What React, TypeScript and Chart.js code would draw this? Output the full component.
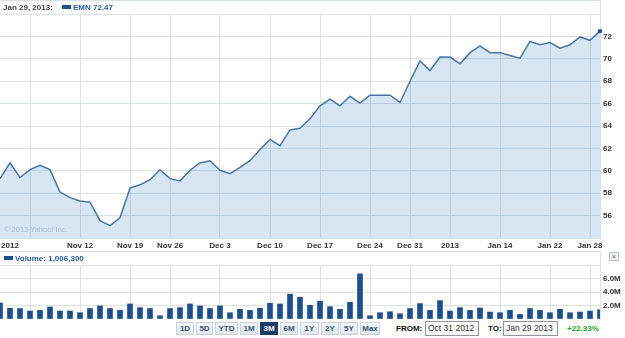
import React, { useEffect, useRef } from 'react';
import { Chart, registerables } from 'chart.js';

Chart.register(...registerables);

// ---- data ----
const dates = [
  'Oct 31', 'Nov 1', 'Nov 2', 'Nov 5', 'Nov 6', 'Nov 7', 'Nov 8', 'Nov 9',
  'Nov 12', 'Nov 13', 'Nov 14', 'Nov 15', 'Nov 16', 'Nov 19', 'Nov 20', 'Nov 21',
  'Nov 23', 'Nov 26', 'Nov 27', 'Nov 28', 'Nov 29', 'Nov 30', 'Dec 3', 'Dec 4',
  'Dec 5', 'Dec 6', 'Dec 7', 'Dec 10', 'Dec 11', 'Dec 12', 'Dec 13', 'Dec 14',
  'Dec 17', 'Dec 18', 'Dec 19', 'Dec 20', 'Dec 21', 'Dec 24', 'Dec 26', 'Dec 27',
  'Dec 28', 'Dec 31', 'Jan 2', 'Jan 3', 'Jan 4', 'Jan 7', 'Jan 8', 'Jan 9',
  'Jan 10', 'Jan 11', 'Jan 14', 'Jan 15', 'Jan 16', 'Jan 17', 'Jan 18', 'Jan 22',
  'Jan 23', 'Jan 24', 'Jan 25', 'Jan 28', 'Jan 29',
];

const closes = [
  59.3, 60.7, 59.4, 60.1, 60.5, 60.1, 58.1, 57.6,
  57.3, 57.2, 55.55, 55.1, 55.8, 58.45, 58.75, 59.2,
  60.1, 59.3, 59.1, 60.05, 60.7, 60.9, 60.05, 59.75,
  60.3, 60.9, 61.9, 62.8, 62.25, 63.65, 63.8, 64.65,
  65.8, 66.4, 65.8, 66.65, 66.05, 66.75, 66.75, 66.75,
  66.1, 68.0, 69.8, 68.95, 70.15, 70.15, 69.55, 70.55,
  71.15, 70.55, 70.55, 70.3, 70.05, 71.55, 71.25, 71.45,
  70.95, 71.25, 71.95, 71.65, 72.47,
];

// volume in millions of shares
const volumes = [
  2.38, 1.58, 1.55, 1.18, 1.28, 1.78, 1.18, 1.18,
  0.93, 1.55, 1.93, 1.55, 1.28, 2.23, 1.68, 1.55,
  0.48, 1.55, 1.68, 2.23, 1.93, 1.55, 1.93, 0.93,
  1.43, 1.28, 1.58, 2.33, 2.23, 3.68, 3.23, 2.03,
  2.63, 1.83, 1.43, 2.48, 6.69, 0.48, 0.93, 1.08,
  0.78, 1.55, 2.28, 1.28, 2.73, 1.18, 1.68, 1.28,
  1.63, 1.03, 0.93, 1.28, 0.68, 1.55, 1.28, 0.93,
  1.43, 0.93, 1.03, 1.18, 1.38,
];

const tickDates = ['Nov 1', 'Nov 5', 'Nov 12', 'Nov 19', 'Nov 26', 'Dec 3', 'Dec 10', 'Dec 17', 'Dec 24', 'Dec 31', 'Jan 7', 'Jan 14', 'Jan 22', 'Jan 28'];
const tickTexts = ['2012', '', 'Nov 12', 'Nov 19', 'Nov 26', 'Dec 3', 'Dec 10', 'Dec 17', 'Dec 24', 'Dec 31', '2013', 'Jan 14', 'Jan 22', 'Jan 28'];
const gridDates = ['Nov 5', 'Nov 12', 'Nov 19', 'Nov 26', 'Dec 3', 'Dec 10', 'Dec 17', 'Dec 24', 'Dec 31', 'Jan 7', 'Jan 14', 'Jan 22', 'Jan 28'];

const priceTicks = [56, 58, 60, 62, 64, 66, 68, 70, 72];
const volumeTicks = [2, 4, 6];

const rangeButtons = ['1D', '5D', 'YTD', '1M', '3M', '6M', '1Y', '2Y', '5Y', 'Max'];
const selectedRange = '3M';

// ---- styles ----
const FONT = '"Liberation Sans", Arial, Helvetica, sans-serif';
const GRID = '#dae2ea';
const LINE = '#4b74a2';
const FILL = 'rgba(50,130,190,0.2)';
const DARK_BLUE = '#1f4f8a';
const TICK_COLOR = '#333333';
const TICK_FONT = { family: FONT, size: 8, weight: 'bold' as const };

const xLabel = (i: number) => {
  const k = tickDates.indexOf(dates[i]);
  return k >= 0 ? tickTexts[k] : '';
};
const xGridColor = (ctx: any) => (gridDates.includes(dates[ctx.index]) ? GRID : 'rgba(0,0,0,0)');

const zeroPad = (s: any) => {
  s.paddingLeft = 0;
  s.paddingRight = 0;
  s.paddingTop = 0;
  s.paddingBottom = 0;
};

const buttonLefts = [176, 196, 215, 240, 260, 280, 300, 321, 340, 360];
const buttonWidths = [18, 17, 23, 18, 18, 18, 19, 18, 18, 20];

export default function App() {
  const priceRef = useRef<HTMLCanvasElement>(null);
  const volRef = useRef<HTMLCanvasElement>(null);

  useEffect(() => {
    document.body.style.margin = '0';
    const pc = new Chart(priceRef.current!, {
      type: 'line',
      data: {
        labels: dates,
        datasets: [
          {
            data: closes,
            borderColor: LINE,
            borderWidth: 1.5,
            backgroundColor: FILL,
            fill: 'start',
            tension: 0,
            pointRadius: (c: any) => (c.dataIndex === closes.length - 1 ? 2.2 : 0),
            pointBackgroundColor: DARK_BLUE,
            pointBorderWidth: 0,
            pointHoverRadius: 0,
          } as any,
        ],
      },
      options: {
        responsive: false,
        animation: false,
        events: [],
        layout: { padding: { top: 14, left: 0, right: 0, bottom: 0 }, autoPadding: false } as any,
        plugins: { legend: { display: false }, tooltip: { enabled: false } },
        scales: {
          x: {
            type: 'category',
            offset: false,
            grid: { color: xGridColor, drawTicks: false, lineWidth: 1 },
            border: { display: true, color: GRID },
            ticks: {
              autoSkip: false,
              maxRotation: 0,
              minRotation: 0,
              padding: 3,
              font: TICK_FONT,
              color: TICK_COLOR,
              callback: (_v: any, i: number) => xLabel(i),
            },
            afterFit: (s: any) => {
              s.height = 13;
              zeroPad(s);
            },
          },
          y: {
            position: 'right',
            min: 54,
            max: 74,
            grid: { color: GRID, drawTicks: false },
            border: { display: true, color: GRID },
            ticks: {
              stepSize: 2,
              padding: 3,
              font: TICK_FONT,
              color: TICK_COLOR,
              callback: (v: any) => (priceTicks.includes(Number(v)) ? String(v) : ''),
            },
            afterFit: (s: any) => {
              s.width = 25;
              zeroPad(s);
            },
          },
        },
      },
    });

    const vc = new Chart(volRef.current!, {
      type: 'bar',
      data: {
        labels: dates,
        datasets: [
          {
            data: volumes,
            backgroundColor: DARK_BLUE,
            borderWidth: 0,
            barThickness: 5,
          } as any,
        ],
      },
      options: {
        responsive: false,
        animation: false,
        events: [],
        layout: { padding: { top: 14, left: 0, right: 0, bottom: 0 }, autoPadding: false } as any,
        plugins: { legend: { display: false }, tooltip: { enabled: false } },
        scales: {
          x: {
            type: 'category',
            offset: false,
            grid: { color: xGridColor, drawTicks: false, lineWidth: 1, offset: false },
            border: { display: false },
            ticks: { display: false, autoSkip: false },
            afterFit: (s: any) => {
              s.height = 0;
              zeroPad(s);
            },
          },
          y: {
            position: 'right',
            min: 0,
            max: 8,
            grid: { color: GRID, drawTicks: false },
            border: { display: true, color: GRID },
            ticks: {
              stepSize: 2,
              padding: 3,
              font: TICK_FONT,
              color: TICK_COLOR,
              callback: (v: any) => (volumeTicks.includes(Number(v)) ? Number(v).toFixed(1) + 'M' : ''),
            },
            afterFit: (s: any) => {
              s.width = 25;
              zeroPad(s);
            },
          },
        },
      },
    });

    return () => {
      pc.destroy();
      vc.destroy();
    };
  }, []);

  const boldSmall: React.CSSProperties = { fontFamily: FONT, fontSize: 8, fontWeight: 'bold', lineHeight: '11px', position: 'absolute', whiteSpace: 'nowrap' };

  return (
    <div style={{ position: 'relative', width: 625, height: 338, background: '#fff', overflow: 'hidden', fontFamily: FONT }}>
      <canvas ref={priceRef} width={625} height={251} style={{ position: 'absolute', left: 0, top: 0 }} />
      <canvas ref={volRef} width={625} height={68} style={{ position: 'absolute', left: 0, top: 251 }} />

      {/* frame lines */}
      <div style={{ position: 'absolute', left: 0, top: 0, width: 601, height: 1, background: GRID }} />
      <div style={{ position: 'absolute', left: 600, top: 0, width: 1, height: 14, background: GRID }} />
      <div style={{ position: 'absolute', left: 0, top: 251, width: 601, height: 1, background: GRID }} />
      <div style={{ position: 'absolute', left: 600, top: 251, width: 1, height: 14, background: GRID }} />

      {/* price header */}
      <div style={{ ...boldSmall, left: 3, top: 2, color: '#444' }}>Jan 29, 2013:</div>
      <div style={{ position: 'absolute', left: 62, top: 5, width: 9, height: 4, background: DARK_BLUE }} />
      <div style={{ ...boldSmall, left: 73, top: 2, color: '#2b5a96' }}>EMN 72.47</div>

      {/* watermark */}
      <div style={{ position: 'absolute', left: 4, top: 225, fontFamily: FONT, fontSize: 7.5, lineHeight: '10px', color: '#a9bdd0', whiteSpace: 'nowrap' }}>© 2013 Yahoo! Inc.</div>

      {/* volume header */}
      <div style={{ position: 'absolute', left: 4, top: 256, width: 9, height: 4, background: DARK_BLUE }} />
      <div style={{ ...boldSmall, left: 15, top: 252.5, color: '#2b5a96' }}>Volume: 1,006,300</div>
      <div style={{ position: 'absolute', left: 609, top: 252, width: 10, height: 9, boxSizing: 'border-box', border: '1px solid #b8c0c8', background: '#eef1f4', fontFamily: FONT, fontSize: 7, lineHeight: '7px', textAlign: 'center', color: '#555' }}>×</div>

      {/* range buttons */}
      {rangeButtons.map((b, i) => {
        const sel = b === selectedRange;
        return (
          <div
            key={b}
            style={{
              position: 'absolute',
              left: buttonLefts[i],
              top: 322,
              width: buttonWidths[i],
              height: 13,
              boxSizing: 'border-box',
              border: sel ? '1px solid #1e3c68' : '1px solid #c8d2dc',
              background: sel ? '#1e3c68' : 'linear-gradient(#f7f9fb, #dfe6ed)',
              color: sel ? '#fff' : '#3d5573',
              fontFamily: FONT,
              fontSize: 8,
              fontWeight: 'bold',
              lineHeight: '11px',
              textAlign: 'center',
            }}
          >
            {b}
          </div>
        );
      })}

      {/* date range */}
      <div style={{ ...boldSmall, left: 396, top: 323, color: '#111' }}>FROM:</div>
      <div style={{ position: 'absolute', left: 425, top: 321, width: 54, height: 15, boxSizing: 'border-box', border: '1px solid #8f969c', background: '#fff', fontFamily: FONT, fontSize: 8.5, lineHeight: '13px', paddingLeft: 2, color: '#333', whiteSpace: 'nowrap' }}>Oct 31 2012</div>
      <div style={{ ...boldSmall, left: 488, top: 323, color: '#111' }}>TO:</div>
      <div style={{ position: 'absolute', left: 503, top: 321, width: 55, height: 15, boxSizing: 'border-box', border: '1px solid #8f969c', background: '#fff', fontFamily: FONT, fontSize: 8.5, lineHeight: '13px', paddingLeft: 2, color: '#333', whiteSpace: 'nowrap' }}>Jan 29 2013</div>
      <div style={{ ...boldSmall, left: 567, top: 323, color: '#2e9b2e' }}>+22.33%</div>
    </div>
  );
}
